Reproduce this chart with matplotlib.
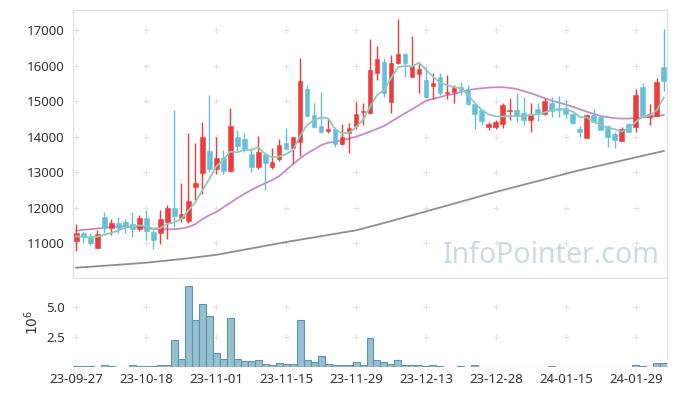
import matplotlib
matplotlib.use("Agg")
import matplotlib.pyplot as plt
import numpy as np

plt.rcParams['font.family'] = ['Noto Sans', 'DejaVu Sans']

tick_labels = ['23-09-27', '23-10-18', '23-11-01', '23-11-15', '23-11-29',
               '23-12-13', '23-12-28', '24-01-15', '24-01-29']

opens = [11079, 11287, 11174, 10882, 11736, 11427, 11568, 11604, 11540, 11407,
         11708, 11315, 11303, 11613, 11989, 11708, 11632, 12596, 12973, 13599,
         13102, 13394, 13046, 13993, 13936, 13515, 13141, 13515, 13158, 13374,
         13816, 13675, 13861, 15341, 14611, 14302, 14170, 14217, 13788, 14097,
         14302, 14687, 14659, 15799, 16109, 14968, 16064, 16325, 15687, 15763,
         15594, 15434, 15687, 15221, 15249, 15389, 15333, 14920, 14751, 14282,
         14282, 14350, 14723, 14751, 14659, 14470, 14771, 14647, 14956, 14816,
         14799, 14630, 14217, 13956, 14611, 14563, 14302, 14077, 13889, 14358,
         14265, 15389, 14563, 14583, 15968]
highs = [11540, 11332, 11303, 11379, 11885, 11680, 11736, 11680, 11885, 11792,
         11933, 11379, 11933, 12073, 14751, 12692, 14097, 13816, 14423, 15173,
         13984, 13627, 14799, 14189, 14097, 13627, 14021, 13540, 13675, 13928,
         14237, 13993, 16221, 15454, 14956, 15257, 14518, 14282, 14350, 14378,
         14968, 14956, 16738, 16550, 16200, 16297, 17300, 16340, 16831, 16109,
         15951, 15799, 15799, 15726, 15454, 15547, 15454, 14930, 14760, 14423,
         14470, 14956, 15097, 15221, 15125, 14940, 14940, 15080, 15108, 15145,
         15032, 14640, 14302, 14630, 14771, 14611, 14310, 14142, 14265, 14378,
         15333, 15502, 14920, 15642, 17019]
lows = [10789, 11006, 10958, 10882, 11287, 11230, 11287, 11303, 11174, 11351,
        11098, 10837, 10978, 11135, 11455, 11596, 11568, 12222, 12383, 13018,
        12961, 12961, 13001, 13608, 13580, 13001, 13085, 12503, 13085, 13327,
        13647, 13225, 13467, 14560, 14260, 14097, 14097, 13720, 13768, 13551,
        14209, 14330, 14640, 15594, 15108, 14659, 16040, 15687, 15670, 15238,
        15080, 15052, 15173, 15060, 14940, 15173, 14892, 14209, 14330, 14189,
        14209, 14237, 14470, 14406, 14330, 14142, 14451, 14611, 14563, 14563,
        14535, 14350, 13984, 13950, 14423, 14189, 13703, 13692, 13880, 14142,
        14142, 14583, 14330, 14575, 15294]
closes = [11287, 11174, 11022, 11267, 11427, 11568, 11427, 11492, 11399, 11708,
          11360, 11098, 11680, 11989, 11781, 11829, 12186, 12708, 13993, 13102,
          13403, 13046, 14302, 13748, 13627, 13158, 13580, 13270, 13290, 13768,
          13664, 13993, 15566, 14583, 14282, 14142, 14209, 13788, 13993, 14254,
          14639, 14732, 15875, 16184, 15221, 16080, 16325, 16080, 15988, 15895,
          15125, 15518, 15221, 15266, 15389, 15313, 14912, 14639, 14442, 14358,
          14414, 14892, 14751, 14591, 14470, 14639, 14639, 15004, 14723, 14751,
          14630, 14378, 14125, 14611, 14423, 14189, 14001, 13908, 14217, 14142,
          15173, 14583, 14639, 15538, 15575]
volumes_m = [0.06, 0.06, 0.05, 0.02, 0.14, 0.06, 0.01, 0.01, 0.14, 0.06,
             0.06, 0.06, 0.19, 0.14, 2.22, 0.69, 6.72, 3.89, 5.22, 4.22,
             1.14, 0.69, 4.11, 0.69, 0.47, 0.47, 0.56, 0.22, 0.14, 0.31,
             0.22, 0.22, 3.94, 0.56, 0.44, 0.94, 0.22, 0.14, 0.19, 0.19,
             0.39, 0.14, 2.44, 0.61, 0.39, 0.28, 0.56, 0.19, 0.19, 0.19,
             0.11, 0.19, 0.11, 0.03, 0.03, 0.11, 0.03, 0.19, 0.03, 0.03,
             0.01, 0.04, 0.04, 0.03, 0.03, 0.03, 0.03, 0.03, 0.08, 0.03,
             0.03, 0.03, 0.03, 0.03, 0.01, 0.03, 0.03, 0.03, 0.03, 0.01,
             0.19, 0.11, 0.04, 0.36, 0.36]
ma5 = [11200, 11190, 11180, 11190, 11240, 11300, 11360, 11440, 11470, 11510,
       11480, 11420, 11430, 11550, 11590, 11690, 11920, 12150, 12480, 12800,
       13160, 13340, 13580, 13560, 13630, 13630, 13700, 13520, 13420, 13440,
       13510, 13630, 14020, 14330, 14470, 14540, 14520, 14210, 14100, 14110,
       14270, 14470, 14840, 15170, 15310, 15640, 15950, 15990, 15970, 16080,
       15880, 15690, 15520, 15450, 15390, 15360, 15170, 14940, 14750, 14620,
       14570, 14570, 14580, 14580, 14590, 14610, 14630, 14680, 14750, 14770,
       14770, 14700, 14550, 14540, 14420, 14330, 14250, 14210, 14140, 14240,
       14420, 14580, 14590, 14750, 15100]
ma20 = [11360, 11380, 11400, 11420, 11440, 11460, 11480, 11480, 11470, 11450,
        11430, 11410, 11400, 11400, 11400, 11420, 11460, 11540, 11680, 11790,
        11880, 12010, 12140, 12270, 12390, 12500, 12600, 12690, 12780, 12890,
        13060, 13230, 13390, 13530, 13640, 13760, 13830, 13860, 13900, 13950,
        14000, 14070, 14140, 14220, 14300, 14420, 14540, 14660, 14770, 14890,
        15010, 15060, 15110, 15170, 15200, 15260, 15310, 15340, 15360, 15380,
        15390, 15390, 15370, 15340, 15280, 15220, 15150, 15080, 15010, 14960,
        14900, 14840, 14770, 14700, 14640, 14580, 14550, 14520, 14510, 14510,
        14520, 14540, 14560, 14580, 14610]
ma_long = [10320, 10333, 10346, 10360, 10374, 10388, 10402, 10416, 10430, 10445,
           10460, 10480, 10500, 10520, 10540, 10562, 10584, 10608, 10632, 10656,
           10680, 10716, 10752, 10788, 10824, 10860, 10896, 10932, 10968, 11004,
           11040, 11073, 11106, 11139, 11172, 11205, 11238, 11271, 11304, 11337,
           11370, 11420, 11472, 11524, 11577, 11630, 11684, 11738, 11792, 11846,
           11900, 11955, 12010, 12065, 12120, 12175, 12230, 12285, 12340, 12395,
           12450, 12500, 12551, 12602, 12653, 12704, 12755, 12806, 12857, 12908,
           12959, 13010, 13060, 13105, 13150, 13195, 13240, 13285, 13330, 13375,
           13420, 13465, 13510, 13555, 13600]

UP = '#ee3b3b'
DOWN = '#66bfd8'
TXT = '#333333'
GRIDC = '#e3e3e3'

fig = plt.figure(figsize=(6.77, 3.96), dpi=100)
L = 73 / 677
W = (667 - 73) / 677
ax = fig.add_axes([L, (396 - 278) / 396, W, (278 - 10) / 396])
axv = fig.add_axes([L, (396 - 367) / 396, W, (367 - 278) / 396], sharex=ax)

n = len(closes)
x = np.arange(n)
o = np.array(opens); c = np.array(closes); h = np.array(highs); l = np.array(lows)
up = c >= o
cols = np.where(up, UP, DOWN)

xt = np.arange(0, n, 10)[:len(tick_labels)]

# grid crosses
yt = [11000, 12000, 13000, 14000, 15000, 16000, 17000]
gx, gy = np.meshgrid(xt, yt)
ax.scatter(gx.ravel(), gy.ravel(), marker='+', s=14, color=GRIDC, linewidths=0.8, zorder=0)

ax.vlines(x, l, h, colors=cols, linewidth=1.0, zorder=3)
body_b = np.minimum(o, c)
body_h = np.maximum(np.abs(c - o), 12)
ax.bar(x, body_h, bottom=body_b, width=0.7, color=cols, edgecolor=cols, linewidth=0.4, zorder=4)

ax.plot(x, ma_long, color='#8f8f8f', linewidth=1.3, zorder=2)
ax.plot(x, ma20, color='#c98ac8', linewidth=1.3, zorder=2)
ax.plot(x, ma5, color='#8ccabe', linewidth=1.3, zorder=5)

ax.text(0.988, 0.03, 'InfoPointer.com', transform=ax.transAxes, ha='right', va='bottom',
        fontsize=20.5, color='#c9dbe6', zorder=1)

ax.set_xlim(-0.45, n - 1 + 0.45)
ax.set_ylim(10030, 17560)
ax.set_yticks(yt)
ax.set_yticklabels([str(v) for v in yt])
ax.tick_params(axis='y', length=0, pad=6, labelsize=9.5, labelcolor=TXT)
ax.tick_params(axis='x', length=0, labelbottom=False)
for s in ['top', 'right', 'left', 'bottom']:
    ax.spines[s].set_color('#e2e2e2')
    ax.spines[s].set_linewidth(1.0)

# volume
vyt = [2.5, 5.0]
vgx, vgy = np.meshgrid(xt, vyt)
axv.scatter(vgx.ravel(), vgy.ravel(), marker='+', s=14, color=GRIDC, linewidths=0.8, zorder=0)
axv.bar(x, volumes_m, width=1.0, color='#96bfcf', edgecolor='#5d97ae', linewidth=0.8, zorder=2)
axv.set_ylim(0, 7.42)
axv.set_yticks(vyt)
axv.set_yticklabels(['2.5', '5.0'])
axv.set_ylabel(r'$10^6$', fontsize=10, color=TXT, labelpad=3)
axv.tick_params(axis='y', length=0, pad=6, labelsize=9.5, labelcolor=TXT)
axv.set_xticks(xt)
axv.set_xticklabels(tick_labels)
axv.tick_params(axis='x', length=0, pad=4, labelsize=9.5, labelcolor=TXT)
for s in ['left', 'bottom']:
    axv.spines[s].set_visible(False)
for s in ['top', 'right']:
    axv.spines[s].set_color('#e2e2e2')

fig.savefig('out.png', dpi=100, facecolor='white')
